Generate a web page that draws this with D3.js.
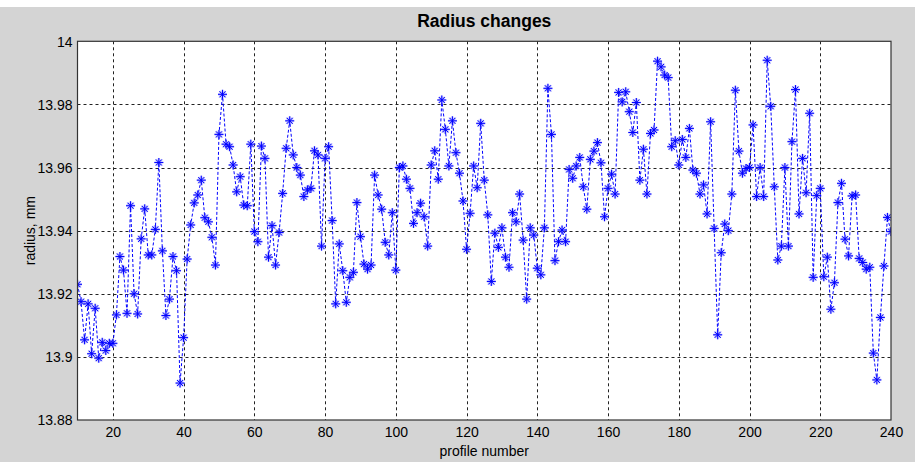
<!DOCTYPE html>
<html><head><meta charset="utf-8">
<script src="https://cdn.jsdelivr.net/npm/d3@7"></script>
<style>
html,body{margin:0;padding:0;background:#fff;}
svg{display:block;font-family:"Liberation Sans",Arial,sans-serif;}
</style></head>
<body>
<svg id="chart" width="915" height="462"></svg>
<script>
const titleText = "Radius changes";
const xLabel = "profile number";
const yLabel = "radius, mm";
const profileStart = 10;
const radius = [
13.923,13.9175,13.9054,13.9168,13.9010,13.9154,13.8996,13.9046,13.9020,13.9043,
13.9043,13.9133,13.9318,13.9275,13.9138,13.9479,13.9200,13.9136,13.9374,13.9469,
13.9323,13.9323,13.9404,13.9616,13.9336,13.9131,13.9183,13.9318,13.9273,13.8917,
13.9061,13.9310,13.9418,13.9488,13.9513,13.9560,13.9441,13.9428,13.9379,13.9291,
13.9705,13.9832,13.9674,13.9666,13.9608,13.9523,13.9571,13.9481,13.9479,13.9674,
13.9397,13.9365,13.9668,13.9629,13.9316,13.9416,13.9291,13.9394,13.9518,13.9661,
13.9748,13.9640,13.9600,13.9576,13.9508,13.9529,13.9534,13.9653,13.9640,13.9351,
13.9629,13.9666,13.9432,13.9168,13.9358,13.9273,13.9173,13.9252,13.9268,13.9489,
13.9381,13.9294,13.9278,13.9291,13.9576,13.9513,13.9468,13.9363,13.9323,13.9457,
13.9275,13.9600,13.9605,13.9563,13.9534,13.9423,13.9457,13.9487,13.9444,13.9351,
13.9608,13.9653,13.9563,13.9814,13.9721,13.9605,13.9748,13.9647,13.9582,13.9494,
13.9341,13.9455,13.9605,13.9536,13.9740,13.9560,13.9450,13.9239,13.9392,13.9347,
13.9409,13.9316,13.9284,13.9457,13.9428,13.9516,13.9370,13.9183,13.9409,13.9386,
13.9281,13.9260,13.9409,13.9851,13.9705,13.9305,13.9365,13.9402,13.9365,13.9594,
13.9566,13.9605,13.9632,13.9539,13.9468,13.9626,13.9652,13.9679,13.9615,13.9444,
13.9534,13.9579,13.9516,13.9838,13.9808,13.9840,13.9777,13.9711,13.9806,13.9560,
13.9658,13.9516,13.9708,13.9719,13.9937,13.9919,13.9893,13.9885,13.9666,13.9685,
13.9608,13.9689,13.9632,13.9724,13.9592,13.9582,13.9516,13.9545,13.9453,13.9745,
13.9407,13.9070,13.9330,13.9421,13.9400,13.9516,13.9845,13.9652,13.9582,13.9597,
13.9600,13.9735,13.9508,13.9600,13.9508,13.9940,13.9794,13.9539,13.9307,13.9351,
13.9600,13.9351,13.9682,13.9847,13.9453,13.9629,13.9520,13.9772,13.9252,13.9511,
13.9534,13.9254,13.9316,13.9151,13.9235,13.9489,13.9550,13.9373,13.9320,13.9510,
13.9513,13.9312,13.9299,13.9278,13.9284,13.9012,13.8927,13.9125,13.9288,13.9442,
13.9397
];
const xTicks = [20,40,60,80,100,120,140,160,180,200,220,240];
const yTicks = [13.88,13.9,13.92,13.94,13.96,13.98,14];
const yTickLabels = ["13.88","13.9","13.92","13.94","13.96","13.98","14"];

const data = radius.map((v,i)=>({n: profileStart+i, v}));

const svg = d3.select("#chart");
const L = 77.5, R = 891, T = 41.3, B = 420;

svg.append("rect").attr("x",0).attr("y",7).attr("width",915).attr("height",455).attr("fill","#d4d4d4");

const x = d3.scaleLinear().domain([10,240]).range([L,R]);
const y = d3.scaleLinear().domain([13.88,14]).range([B,T]);

svg.append("rect").attr("x",L).attr("y",T).attr("width",R-L).attr("height",B-T).attr("fill","#fff");

// grid
const grid = svg.append("g").attr("stroke","#222").attr("stroke-width",1).attr("stroke-dasharray","3,3");
xTicks.filter(t=>t<240).forEach(t=>{
  grid.append("line").attr("x1",Math.round(x(t))+0.5).attr("x2",Math.round(x(t))+0.5).attr("y1",T).attr("y2",B);
});
yTicks.filter(t=>t>13.88 && t<14).forEach(t=>{
  grid.append("line").attr("x1",L).attr("x2",R).attr("y1",Math.round(y(t))+0.5).attr("y2",Math.round(y(t))+0.5);
});

// axes
const xAxis = svg.append("g").attr("transform",`translate(0,${B})`)
  .call(d3.axisBottom(x).tickValues(xTicks).tickSize(0).tickFormat(d3.format("d")));
xAxis.select(".domain").remove();
xAxis.selectAll("text").attr("y",17).attr("dy",0).attr("font-size",14).attr("fill","#000").attr("font-family","Liberation Sans, Arial, sans-serif");

const yAxis = svg.append("g").attr("transform",`translate(${L},0)`)
  .call(d3.axisLeft(y).tickValues(yTicks).tickSize(0).tickFormat((d,i)=>yTickLabels[i]));
yAxis.select(".domain").remove();
yAxis.selectAll("text").attr("x",-5).attr("dy","0.35em").attr("font-size",14).attr("fill","#000").attr("font-family","Liberation Sans, Arial, sans-serif");

// data line
const line = d3.line().x(d=>x(d.n)).y(d=>y(d.v));
const clip = svg.append("clipPath").attr("id","clip").append("rect").attr("x",L).attr("y",T).attr("width",R-L).attr("height",B-T);
svg.append("path").datum(data).attr("d",line).attr("fill","none").attr("stroke","#0000ff")
  .attr("stroke-width",1).attr("stroke-dasharray","3,2").attr("clip-path","url(#clip)");

// star markers
const starPath = "M-4.5,0H4.5M0,-4.5V4.5M-3,-3L3,3M-3,3L3,-3";
const mk = svg.append("g").attr("clip-path","url(#clip)");
mk.selectAll("path.halo").data(data).join("path").attr("class","halo")
  .attr("transform",d=>`translate(${x(d.n)},${y(d.v)})`).attr("d",starPath)
  .attr("stroke","#8080ff").attr("stroke-opacity",0.5).attr("stroke-width",2.2).attr("fill","none");
mk.selectAll("path.star").data(data).join("path").attr("class","star")
  .attr("transform",d=>`translate(${x(d.n)},${y(d.v)})`).attr("d",starPath)
  .attr("stroke","#0000ff").attr("stroke-width",1).attr("fill","none");

// box
svg.append("rect").attr("x",L).attr("y",T).attr("width",R-L).attr("height",B-T)
  .attr("fill","none").attr("stroke","#333").attr("stroke-width",1.2);

// title and labels
svg.append("text").attr("x",(L+R)/2).attr("y",27).attr("text-anchor","middle")
  .attr("font-size",17.5).attr("font-weight","bold").attr("fill","#000").text(titleText);
svg.append("text").attr("x",(L+R)/2).attr("y",456).attr("text-anchor","middle")
  .attr("font-size",14).attr("fill","#000").text(xLabel);
svg.append("text").attr("transform",`translate(35,${(T+B)/2}) rotate(-90)`).attr("text-anchor","middle")
  .attr("font-size",14).attr("fill","#000").text(yLabel);
</script>
</body></html>
